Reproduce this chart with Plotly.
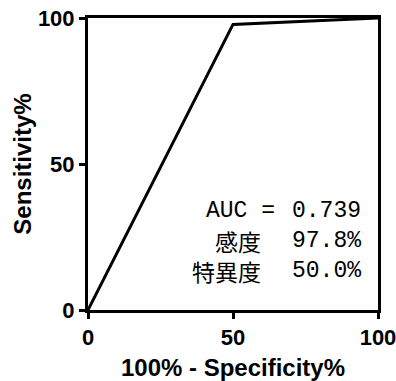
import plotly.graph_objects as go

fpr = [0, 50, 100]
tpr = [0, 97.8, 100]
tick_vals = [0, 50, 100]
tick_text = ["0", "50", "100"]
labels = ["AUC =", "感度", "特異度"]
values = ["0.739", "97.8%", "50.0%"]

W, H = 396, 381
L, R, T, B = 88, 18, 18, 71

fig = go.Figure()
fig.add_trace(go.Scatter(x=fpr, y=tpr, mode="lines",
                         line=dict(color="black", width=3), hoverinfo="skip",
                         showlegend=False, cliponaxis=False))

axis_common = dict(range=[0, 100], tickvals=tick_vals, ticktext=tick_text,
                   showgrid=False, zeroline=False, showline=True, mirror=True,
                   linecolor="black", linewidth=3, ticks="outside", ticklen=6,
                   tickwidth=3, tickcolor="black", automargin=False,
                   ticklabeloverflow="allow",
                   tickfont=dict(family="Liberation Sans", size=22, color="black", weight="bold"))

fig.update_layout(
    width=W, height=H, margin=dict(l=L, r=R, t=T, b=B),
    paper_bgcolor="white", plot_bgcolor="white",
    xaxis=dict(**axis_common, title=dict(text="<b>100% - Specificity%</b>", standoff=10,
               font=dict(family="Liberation Sans", size=24, color="black"))),
    yaxis=dict(**axis_common, title=dict(text="<b>Sensitivity%</b>", standoff=0,
               font=dict(family="Liberation Sans", size=24, color="black"))),
)

pw = W - L - R
ph = H - T - B


def py(p):
    return 1 - (p - T) / ph


# AUC row
fig.add_annotation(x=(277 - L) / pw, y=py(211), xref="paper", yref="paper", text=labels[0],
                   showarrow=False, xanchor="right", yanchor="middle",
                   font=dict(family="Liberation Mono", size=23, color="black"))
# CJK label rows (one block, right aligned)
fig.add_annotation(x=(263 - L) / pw, y=py(256), xref="paper", yref="paper",
                   text="<br>".join(labels[1:]), align="right",
                   showarrow=False, xanchor="right", yanchor="middle",
                   font=dict(family="Noto Sans CJK JP", size=23, color="black"))
# value column
fig.add_annotation(x=(290 - L) / pw, y=py(241), xref="paper", yref="paper",
                   text="<br>".join(values), align="left",
                   showarrow=False, xanchor="left", yanchor="middle",
                   font=dict(family="Liberation Mono", size=23, color="black"))

fig.write_html("out.html", config={"displayModeBar": False},
               post_script="document.body.style.margin='0';document.body.style.padding='0';")
